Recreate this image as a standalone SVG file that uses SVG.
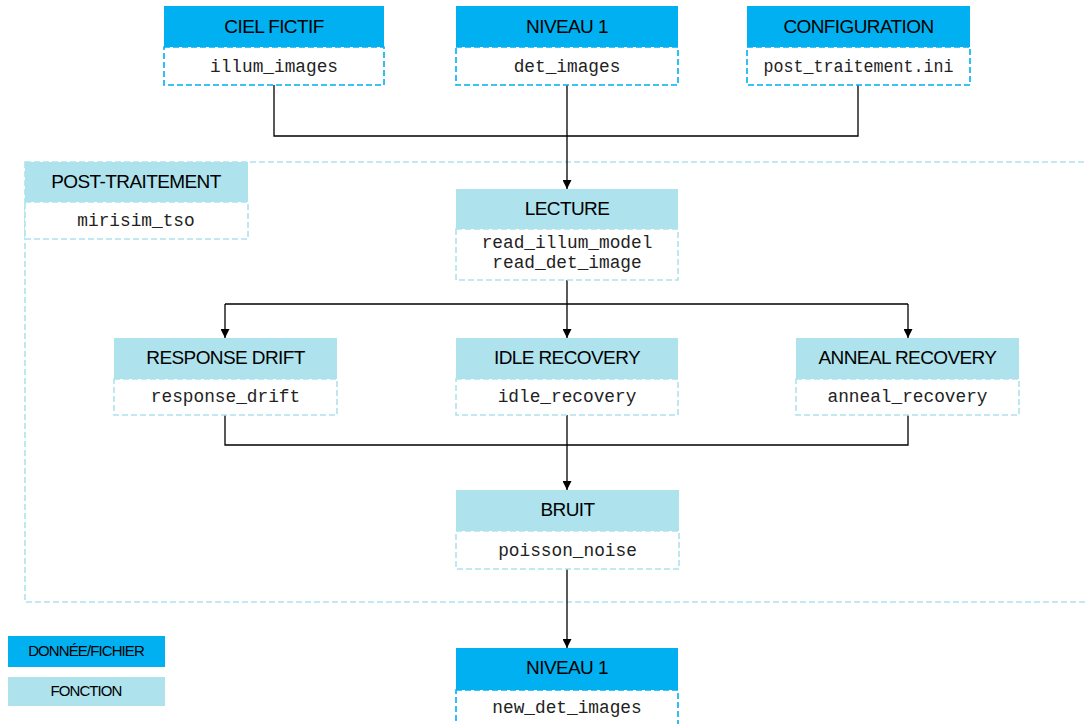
<svg xmlns="http://www.w3.org/2000/svg" width="1085" height="724" viewBox="0 0 1085 724">
<defs>
<style>
.dh{fill:#00b0f0}
.fh{fill:#aee2ed}
.db{fill:#fff;stroke:#00b0f0;stroke-width:1.6;stroke-dasharray:6 3}
.fb{fill:#fff;stroke:#aee2ed;stroke-width:1.6;stroke-dasharray:6 3}
.ht{font-family:"Liberation Sans",Arial,sans-serif;font-size:19px;fill:#000;text-anchor:middle;letter-spacing:-0.6px}
.mt{font-family:"Liberation Mono","Courier New",monospace;font-size:17.8px;fill:#222;text-anchor:middle}
.lt{font-family:"Liberation Sans",Arial,sans-serif;font-size:15px;fill:#000;text-anchor:middle;letter-spacing:-0.9px}
.cn{fill:none;stroke:#000;stroke-width:1.3}
</style>
<marker id="ar" viewBox="0 0 10 10" refX="10" refY="5" markerWidth="9" markerHeight="9" markerUnits="userSpaceOnUse" orient="auto">
<path d="M0,0 L10,5 L0,10 z" fill="#000"/>
</marker>
</defs>
<rect width="1085" height="724" fill="#fff"/>

<g id="container">
<rect x="25" y="162" width="1075" height="440" fill="none" stroke="#aee2ed" stroke-width="1.6" stroke-dasharray="6 3"/>
</g>

<g id="connectors">
<path class="cn" d="M274,85 V136 H858 V85"/>
<path class="cn" d="M567,85 V189" marker-end="url(#ar)"/>
<path class="cn" d="M567,280 V304"/>
<path class="cn" d="M225,304 H908"/>
<path class="cn" d="M225,304 V338" marker-end="url(#ar)"/>
<path class="cn" d="M567,304 V338" marker-end="url(#ar)"/>
<path class="cn" d="M908,304 V338" marker-end="url(#ar)"/>
<path class="cn" d="M225,415 V445 H908 V415"/>
<path class="cn" d="M567,415 V490" marker-end="url(#ar)"/>
<path class="cn" d="M567,569 V648" marker-end="url(#ar)"/>
</g>

<g id="ciel-fictif">
<rect class="db" x="164" y="47" width="220" height="38"/>
<rect class="dh" x="164" y="6" width="220" height="41"/>
<text class="ht" x="274" y="33">CIEL FICTIF</text>
<text class="mt" x="274" y="72">illum_images</text>
</g>

<g id="niveau1-in">
<rect class="db" x="456" y="47" width="222" height="38"/>
<rect class="dh" x="456" y="6" width="222" height="41"/>
<text class="ht" x="567" y="33">NIVEAU 1</text>
<text class="mt" x="567" y="72">det_images</text>
</g>

<g id="configuration">
<rect class="db" x="747" y="47" width="223" height="38"/>
<rect class="dh" x="747" y="6" width="223" height="41"/>
<text class="ht" x="858.5" y="33">CONFIGURATION</text>
<text class="mt" x="858.5" y="72" textLength="190" lengthAdjust="spacingAndGlyphs">post_traitement.ini</text>
</g>

<g id="post-traitement">
<rect class="fb" x="25" y="202" width="223" height="37"/>
<rect class="fh" x="25" y="162" width="223" height="40"/>
<text class="ht" x="136" y="188">POST-TRAITEMENT</text>
<text class="mt" x="136" y="226">mirisim_tso</text>
</g>

<g id="lecture">
<rect class="fb" x="456" y="229" width="222" height="51"/>
<rect class="fh" x="456" y="189" width="222" height="40"/>
<text class="ht" x="567" y="215">LECTURE</text>
<text class="mt" x="567" y="248">read_illum_model</text>
<text class="mt" x="567" y="268">read_det_image</text>
</g>

<g id="response-drift">
<rect class="fb" x="114" y="379" width="223" height="36"/>
<rect class="fh" x="114" y="338" width="223" height="41"/>
<text class="ht" x="225.5" y="364">RESPONSE DRIFT</text>
<text class="mt" x="225.5" y="402">response_drift</text>
</g>

<g id="idle-recovery">
<rect class="fb" x="456" y="379" width="222" height="36"/>
<rect class="fh" x="456" y="338" width="222" height="41"/>
<text class="ht" x="567" y="364">IDLE RECOVERY</text>
<text class="mt" x="567" y="402">idle_recovery</text>
</g>

<g id="anneal-recovery">
<rect class="fb" x="796" y="379" width="223" height="36"/>
<rect class="fh" x="796" y="338" width="223" height="41"/>
<text class="ht" x="907.5" y="364">ANNEAL RECOVERY</text>
<text class="mt" x="907.5" y="402">anneal_recovery</text>
</g>

<g id="bruit">
<rect class="fb" x="456" y="531" width="223" height="38"/>
<rect class="fh" x="456" y="490" width="223" height="41"/>
<text class="ht" x="567.5" y="516">BRUIT</text>
<text class="mt" x="567.5" y="556">poisson_noise</text>
</g>

<g id="niveau1-out">
<rect class="db" x="456" y="690" width="222" height="50"/>
<rect class="dh" x="456" y="648" width="222" height="42"/>
<text class="ht" x="567" y="674">NIVEAU 1</text>
<text class="mt" x="567" y="713">new_det_images</text>
</g>

<g id="legend-data">
<rect class="dh" x="8" y="636" width="157" height="31"/>
<text class="lt" x="86" y="656">DONNÉE/FICHIER</text>
</g>

<g id="legend-function">
<rect class="fh" x="8" y="677" width="157" height="29"/>
<text class="lt" x="86" y="696">FONCTION</text>
</g>
</svg>
